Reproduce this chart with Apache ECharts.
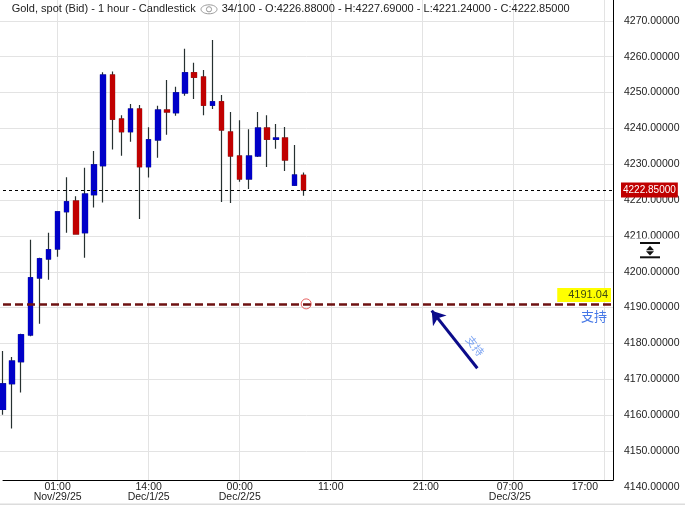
<!DOCTYPE html>
<html><head><meta charset="utf-8">
<script src="https://cdn.jsdelivr.net/npm/echarts@6/dist/echarts.min.js"></script>
<style>html,body{margin:0;padding:0;background:#fff}#c{width:685px;height:505px}</style>
</head><body><div id="c"></div>
<script>
// ---- data ----
const categories = [
  '11/28 19:00','11/28 20:00','11/28 21:00','11/28 22:00','11/28 23:00',
  '11/29 00:00','11/29 01:00','11/29 02:00','11/29 03:00','11/29 04:00',
  '12/01 08:00','12/01 09:00','12/01 10:00','12/01 11:00','12/01 12:00','12/01 13:00','12/01 14:00',
  '12/01 15:00','12/01 16:00','12/01 17:00','12/01 18:00','12/01 19:00','12/01 20:00','12/01 21:00',
  '12/01 22:00','12/01 23:00','12/02 00:00','12/02 01:00','12/02 02:00','12/02 03:00','12/02 04:00',
  '12/02 05:00','12/02 07:00','12/02 08:00','12/02 09:00','12/02 10:00','12/02 11:00','12/02 12:00',
  '12/02 13:00','12/02 14:00','12/02 15:00','12/02 16:00','12/02 17:00','12/02 18:00','12/02 19:00',
  '12/02 20:00','12/02 21:00','12/02 22:00','12/02 23:00','12/03 00:00','12/03 01:00','12/03 02:00',
  '12/03 03:00','12/03 04:00','12/03 05:00','12/03 06:00','12/03 07:00','12/03 08:00','12/03 09:00',
  '12/03 10:00','12/03 11:00','12/03 12:00','12/03 13:00','12/03 14:00','12/03 15:00','12/03 16:00',
  '12/03 17:00','12/03 18:00'
];
const opens  = [4161.6,4168.8,4174.9,4182.4,4198.3,4203.6,4206.4,4216.8,4219.7,4210.9,4221.5,4229.6,4254.9,4242.6,4239.1,4245.4,4229.3,4236.8,4245.1,4244.4,4249.9,4255.5,4254.3,4246.5,4247.4,4239.0,4232.3,4225.9,4232.3,4240.1,4237.0,4237.3,4224.2,4226.88];
const closes = [4168.7,4175.1,4182.4,4198.3,4203.6,4206.1,4216.7,4219.5,4210.6,4221.7,4229.8,4254.9,4242.6,4239.1,4245.4,4229.3,4236.8,4245.1,4244.6,4249.9,4255.5,4254.3,4246.5,4247.4,4239.6,4232.3,4225.9,4232.3,4240.1,4237.0,4237.3,4231.2,4227.0,4222.85];
const lows   = [4160.1,4156.3,4166.3,4182.0,4185.5,4197.8,4204.2,4210.9,4210.5,4203.9,4217.9,4219.3,4234.1,4232.4,4236.3,4214.7,4226.3,4231.8,4238.2,4243.5,4249.1,4248.2,4243.7,4245.4,4219.5,4219.2,4225.1,4223.1,4232.0,4229.2,4234.3,4228.1,4223.9,4221.24];
const highs  = [4177.9,4176.2,4182.7,4208.9,4203.9,4210.9,4216.9,4226.4,4221.1,4229.0,4233.7,4255.7,4255.9,4243.7,4246.8,4246.5,4240.3,4246.3,4253.5,4251.6,4262.2,4258.3,4256.3,4264.7,4249.3,4244.6,4242.3,4239.8,4244.6,4243.7,4241.2,4240.4,4235.4,4227.69];

const tickIdx  = [6, 16, 26, 36, 46, 56, 66];
const tickTime = ['01:00','14:00','00:00','11:00','21:00','07:00','17:00'];
const tickDate = ['Nov/29/25','Dec/1/25','Dec/2/25','','','Dec/3/25',''];
const tickShiftStyle = ['c','c','c','c','r4','l3','l19'];

const yMinTick = 4140, yStep = 10;
const lastPrice = 4222.85;
const supportLevel = 4191.04;
const supportText = '支持';
const supportAnchor = [33.3, 4191.04];
const arrowTail = [52.1, 4173.07];
const arrowHead = [47.09, 4189.14];
const arrowLabelAt = [51.85, 4179.3];

const headerLeft = 'Gold, spot (Bid) - 1 hour - Candlestick';
const headerRight = '34/100 - O:4226.88000 - H:4227.69000 - L:4221.24000 - C:4222.85000';

// ---- chart ----
const FONT = '"Liberation Sans", Arial, sans-serif';
const BLUE = '#0000c8', RED = '#c00000', WICK = '#263030', GRID = '#e3e3e3';

const candleData = opens.map((o, i) => [o, closes[i], lows[i], highs[i]]);
const bodyData = opens.map((o, i) => [o, closes[i], Math.min(o, closes[i]), Math.max(o, closes[i])]);

const splitColors = [];
for (let i = 0; i < 16; i++) splitColors.push(i === 0 || i >= 14 ? 'rgba(0,0,0,0)' : GRID);

function richStyle(extra) {
  return Object.assign({fontSize: 10.5, lineHeight: 10.3, color: '#222', fontFamily: FONT}, extra);
}

const chart = echarts.init(document.getElementById('c'), null, {renderer: 'canvas'});
chart.setOption({
  animation: false,
  backgroundColor: '#fff',
  grid: [
    {left: 3, right: 72, top: 0, bottom: 25, outerBoundsMode: 'none', containLabel: false},
    {left: 0, right: 72, top: 0, bottom: 18.2, outerBoundsMode: 'none', containLabel: false}
  ],
  xAxis: [
    {
      type: 'category', gridIndex: 0, data: categories, boundaryGap: false,
      axisLine: {show: true, onZero: false, lineStyle: {color: '#000', width: 1}},
      axisTick: {show: false},
      splitLine: {show: true, interval: (i) => tickIdx.indexOf(i) >= 0, lineStyle: {color: GRID, width: 1}},
      axisLabel: {
        show: true, interval: (i) => tickIdx.indexOf(i) >= 0, margin: 1.5, hideOverlap: false,
        formatter: (v, i) => {
          const k = tickIdx.indexOf(i);
          if (k < 0) return '';
          const s = tickShiftStyle[k];
          return '{' + s + '|' + tickTime[k] + '}' + (tickDate[k] ? '\n{' + s + '|' + tickDate[k] + '}' : '');
        },
        rich: {
          c: richStyle({}),
          r4: richStyle({padding: [0, 0, 0, 8]}),
          l3: richStyle({padding: [0, 6, 0, 0]}),
          l19: richStyle({padding: [0, 38, 0, 0]})
        }
      }
    },
    {type: 'value', gridIndex: 1, min: 0, max: 1, show: false},
    {type: 'value', gridIndex: 0, min: 0, max: categories.length - 1, show: false}
  ],
  yAxis: [
    {
      type: 'value', gridIndex: 0, position: 'right', min: 4141.90, max: 4275.83,
      axisLine: {show: true, onZero: false, lineStyle: {color: '#000', width: 1}},
      axisTick: {show: false}, axisLabel: {show: false}, splitLine: {show: false}
    },
    {
      type: 'value', gridIndex: 1, position: 'right', min: yMinTick, max: 4275.83, interval: yStep,
      axisLine: {show: false, onZero: false}, axisTick: {show: false},
      splitLine: {show: true, lineStyle: {color: splitColors, width: 1}},
      axisLabel: {
        show: true, margin: 11, showMaxLabel: false, showMinLabel: true, hideOverlap: false,
        fontSize: 10.5, color: '#222', fontFamily: FONT, padding: [0, 0, 3, 0],
        formatter: (v) => v.toFixed(5)
      }
    }
  ],
  series: [
    {
      type: 'candlestick', xAxisIndex: 0, yAxisIndex: 0, data: candleData, barWidth: 5, clip: false,
      itemStyle: {color: BLUE, color0: RED, borderColor: WICK, borderColor0: WICK, borderWidth: 1.2},
      markLine: {
        silent: true, symbol: ['none', 'none'], animation: false,
        data: [
          {
            yAxis: lastPrice,
            lineStyle: {color: '#000', type: [3, 3], width: 1},
            label: {show: true, position: 'end', distance: 8, formatter: () => lastPrice.toFixed(5),
              backgroundColor: RED, color: '#fff', fontSize: 10, lineHeight: 11, padding: [2, 2, 2, 2], fontFamily: FONT}
          },
          {
            yAxis: supportLevel,
            lineStyle: {color: '#6e1212', type: [8, 4], width: 2.5},
            label: {show: true, position: 'insideEndTop', distance: 2, formatter: () => supportLevel.toFixed(2),
              backgroundColor: '#ffff00', color: '#3f4a12', fontSize: 11, lineHeight: 11, padding: [2, 3, 1, 11], fontFamily: FONT}
          },
          {
            yAxis: supportLevel,
            lineStyle: {color: 'rgba(0,0,0,0)', width: 1},
            label: {show: true, position: 'insideEndBottom', distance: 6, formatter: supportText,
              color: '#4678e6', fontSize: 13, fontFamily: '"Noto Sans CJK SC", sans-serif'}
          }
        ]
      }
    },
    {
      type: 'candlestick', xAxisIndex: 0, yAxisIndex: 0, data: bodyData, barWidth: 5, clip: false,
      itemStyle: {color: BLUE, color0: RED, borderColor: BLUE, borderColor0: RED, borderWidth: 1.2}
    },
    {
      type: 'lines', coordinateSystem: 'cartesian2d', xAxisIndex: 2, yAxisIndex: 0, z: 5,
      symbol: ['none', 'arrow'], symbolSize: 13,
      lineStyle: {color: '#0b0b8a', width: 3, opacity: 1},
      data: [{coords: [arrowTail, arrowHead]}]
    },
    {
      type: 'scatter', xAxisIndex: 2, yAxisIndex: 0, z: 6, symbol: 'circle', symbolSize: 10,
      itemStyle: {color: 'rgba(0,0,0,0)', borderColor: '#e23b3b', borderWidth: 1},
      data: [supportAnchor]
    },
    {
      type: 'scatter', xAxisIndex: 2, yAxisIndex: 0, z: 6, symbolSize: 0,
      label: {show: true, position: 'inside', formatter: supportText, rotate: -52,
        color: '#5b8def', fontSize: 11, fontFamily: '"Noto Sans CJK SC", sans-serif'},
      data: [arrowLabelAt]
    }
  ],
  graphic: [
    {type: 'text', z: 100, style: {text: headerLeft, x: 11.7, y: 9, verticalAlign: 'middle', font: '11px ' + FONT, fill: '#222'}},
    {type: 'ellipse', z: 100, shape: {cx: 209, cy: 9.3, rx: 8, ry: 4.5}, style: {fill: 'none', stroke: '#9a9a9a', lineWidth: 1}},
    {type: 'circle', z: 100, shape: {cx: 209, cy: 9.3, r: 2.6}, style: {fill: 'none', stroke: '#9a9a9a', lineWidth: 1}},
    {type: 'text', z: 100, style: {text: headerRight, x: 221.7, y: 9, verticalAlign: 'middle', font: '11px ' + FONT, fill: '#222'}},
    {type: 'rect', z: 100, shape: {x: 618, y: 238.6, width: 67, height: 22}, style: {fill: '#fff'}},
    {type: 'rect', z: 101, shape: {x: 640, y: 242, width: 20, height: 2}, style: {fill: '#111'}},
    {type: 'rect', z: 101, shape: {x: 640, y: 256.3, width: 20, height: 2}, style: {fill: '#111'}},
    {type: 'polygon', z: 101, shape: {points: [[650, 245.8], [646, 250.3], [654, 250.3]]}, style: {fill: '#111'}},
    {type: 'polygon', z: 101, shape: {points: [[646, 251.3], [654, 251.3], [650, 255.6]]}, style: {fill: '#111'}},
    {type: 'rect', z: 100, shape: {x: 0, y: 503.5, width: 685, height: 1.5}, style: {fill: '#dcdcdc'}}
  ]
});
</script></body></html>
